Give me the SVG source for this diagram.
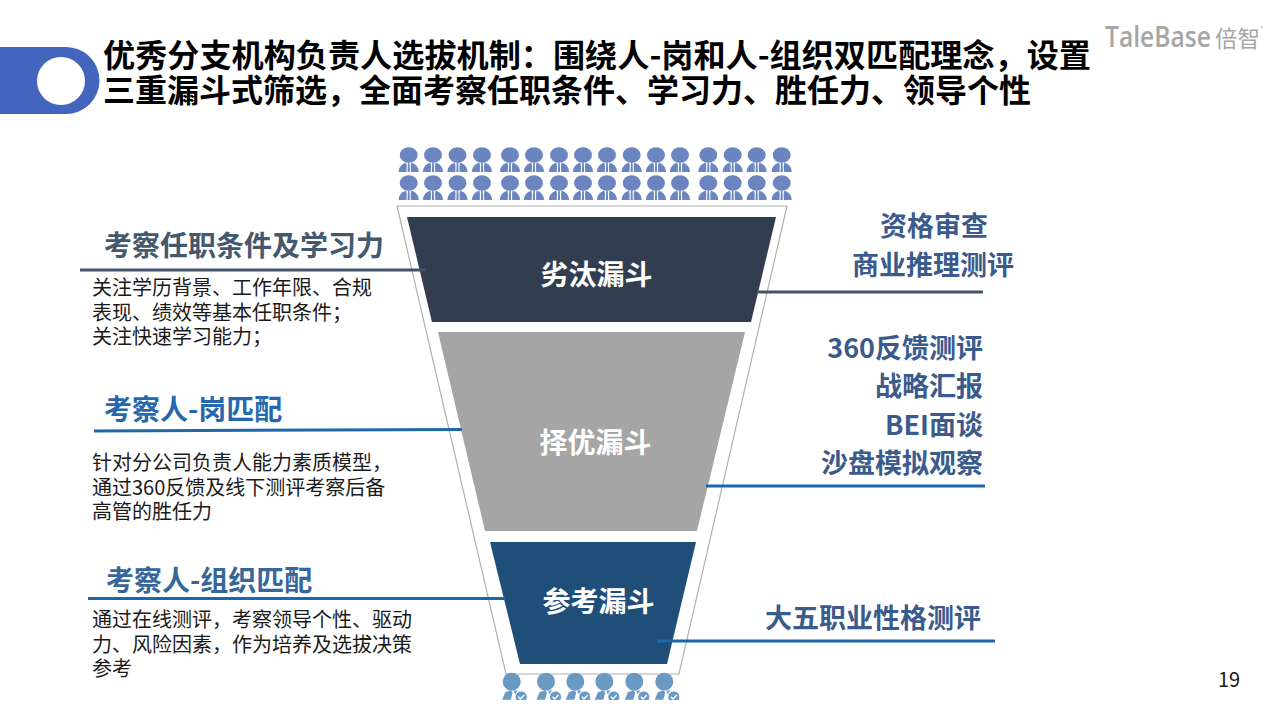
<svg xmlns="http://www.w3.org/2000/svg" width="1280" height="720" viewBox="0 0 1280 720">
<style>
text{font-family:"Noto Sans CJK SC","Noto Sans",sans-serif}
.title{font-size:32px;font-weight:700;fill:#000}
.sub{font-size:28px;font-weight:700}
.tag{font-size:27px;font-weight:700;fill:#3b5b8c;text-anchor:end}
.body{font-size:20px;fill:#1a1a1a}
.fn{font-size:28px;font-weight:700;fill:#fff;text-anchor:middle}
.ln{fill:none;stroke-width:3}
.p{fill:#6a85bf}
.q{fill:#6a9ac4}
</style>
<defs>
<g id="person" class="p">
<ellipse cx="0" cy="0" rx="9" ry="7.700"/>
<path d="M-10 17C-10 12-7 9-2.600 7.500L-2 11L-2.200 17ZM10 17C10 12 7 9 2.600 7.500L2 11L2.200 17Z"/>
<path d="M-.8 7.500H.8L1.100 17H-1.100Z"/>
</g>
<g id="checker" class="q">
<ellipse cx="0" cy="0" rx="9" ry="9"/>
<path d="M-9.500 18L-6.500 10.500L-1 8.500L1 11L-1 18Z"/>
<path d="M2 9L6 8.500L3.500 12.500Z"/>
<circle cx="9.500" cy="15.300" r="6" stroke="#fff" stroke-width=".8"/>
<path d="M6.500 15L8.700 17.300L12.500 13.300" fill="none" stroke="#fff" stroke-width="1.300"/>
</g>
<clipPath id="page"><rect width="1280" height="700"/></clipPath>
</defs>
<rect width="1280" height="720" fill="#fff"/>

<g id="header">
<path d="M0 47H66A33.500 33.500 0 0 1 66 114H0Z" fill="#4465bd"/>
<circle cx="61" cy="81" r="24" fill="#fff"/>
<text class="title" x="103" y="67" textLength="988" lengthAdjust="spacingAndGlyphs">优秀分支机构负责人选拔机制：围绕人-岗和人-组织双匹配理念，设置</text>
<text class="title" x="103" y="102" textLength="928" lengthAdjust="spacingAndGlyphs">三重漏斗式筛选，全面考察任职条件、学习力、胜任力、领导个性</text>
</g>

<g id="logo">
<text x="1105" y="47" font-size="29" font-weight="600" fill="#a6a6a6" textLength="106" lengthAdjust="spacingAndGlyphs" style="font-family:'Open Sans',sans-serif">TaleBase</text>
<text x="1215" y="47" font-size="23" fill="#a6a6a6" textLength="45" lengthAdjust="spacingAndGlyphs">倍智</text>
<text x="1260.500" y="30" font-size="5" fill="#a6a6a6">®</text>
</g>

<g id="crowd-top">
<use href="#person" x="408.700" y="155"/><use href="#person" x="433" y="155"/><use href="#person" x="457.500" y="155"/><use href="#person" x="482" y="155"/>
<use href="#person" x="510" y="155"/><use href="#person" x="534" y="155"/><use href="#person" x="559" y="155"/><use href="#person" x="583" y="155"/>
<use href="#person" x="607" y="155"/><use href="#person" x="631.700" y="155"/><use href="#person" x="656" y="155"/><use href="#person" x="680" y="155"/>
<use href="#person" x="708.300" y="155"/><use href="#person" x="732.700" y="155"/><use href="#person" x="756.700" y="155"/><use href="#person" x="781.700" y="155"/>
<use href="#person" x="408.700" y="183"/><use href="#person" x="433" y="183"/><use href="#person" x="457.500" y="183"/><use href="#person" x="482" y="183"/>
<use href="#person" x="510" y="183"/><use href="#person" x="534" y="183"/><use href="#person" x="559" y="183"/><use href="#person" x="583" y="183"/>
<use href="#person" x="607" y="183"/><use href="#person" x="631.700" y="183"/><use href="#person" x="656" y="183"/><use href="#person" x="680" y="183"/>
<use href="#person" x="708.300" y="183"/><use href="#person" x="732.700" y="183"/><use href="#person" x="756.700" y="183"/><use href="#person" x="781.700" y="183"/>
</g>

<g id="funnel-outline">
<path d="M397 206H787L679 674H506Z" fill="#fff" stroke="#b0b0b0" stroke-width="1.200"/>
</g>

<g id="funnel-1">
<path d="M407 217H776L751 322H432Z" fill="#323e50"/>
<text class="fn" x="596.500" y="285">劣汰漏斗</text>
</g>
<g id="funnel-2">
<path d="M438 332H745L697 531H485Z" fill="#a5a5a5"/>
<text class="fn" x="595.500" y="453">择优漏斗</text>
</g>
<g id="funnel-3">
<path d="M490 542H696L667 664H520Z" fill="#1f4e79"/>
<text class="fn" x="598.500" y="612">参考漏斗</text>
</g>

<g id="crowd-bottom" clip-path="url(#page)">
<use href="#checker" x="511.700" y="681.700"/><use href="#checker" x="546" y="681.700"/><use href="#checker" x="575.300" y="681.700"/><use href="#checker" x="604.300" y="681.700"/><use href="#checker" x="634.300" y="681.700"/><use href="#checker" x="664.300" y="681.700"/>
</g>

<g id="connectors">
<path class="ln" d="M80 270H426" stroke="#44546a"/>
<path class="ln" d="M757 292H983" stroke="#44546a"/>
<path class="ln" d="M94 431L462 429.500" stroke="#1f67ab"/>
<path class="ln" d="M706 486H985" stroke="#1f67ab"/>
<path class="ln" d="M88 598.500H505" stroke="#1f67ab"/>
<path class="ln" d="M657 641H995" stroke="#1f67ab"/>
</g>

<g id="left-1">
<text class="sub" x="104" y="256" fill="#44586e">考察任职条件及学习力</text>
<text class="body" x="92" y="295">关注学历背景、工作年限、合规</text>
<text class="body" x="92" y="320">表现、绩效等基本任职条件；</text>
<text class="body" x="92" y="344">关注快速学习能力；</text>
</g>
<g id="left-2">
<text class="sub" x="104" y="420" fill="#2568ae">考察人-岗匹配</text>
<text class="body" x="92" y="470">针对分公司负责人能力素质模型，</text>
<text class="body" x="92" y="495">通过360反馈及线下测评考察后备</text>
<text class="body" x="92" y="519">高管的胜任力</text>
</g>
<g id="left-3">
<text class="sub" x="106" y="591" fill="#386699">考察人-组织匹配</text>
<text class="body" x="92" y="627">通过在线测评，考察领导个性、驱动</text>
<text class="body" x="92" y="652">力、风险因素，作为培养及选拔决策</text>
<text class="body" x="92" y="676">参考</text>
</g>

<g id="right-1">
<text class="tag" x="988" y="236">资格审查</text>
<text class="tag" x="1014" y="275">商业推理测评</text>
</g>
<g id="right-2">
<text class="tag" x="983" y="358">360反馈测评</text>
<text class="tag" x="983" y="396">战略汇报</text>
<text class="tag" x="983" y="435">BEI面谈</text>
<text class="tag" x="983" y="473">沙盘模拟观察</text>
</g>
<g id="right-3">
<text class="tag" x="981" y="628">大五职业性格测评</text>
</g>

<text id="page-number" x="1218" y="687" font-size="20" fill="#1a1a1a">19</text>
</svg>
